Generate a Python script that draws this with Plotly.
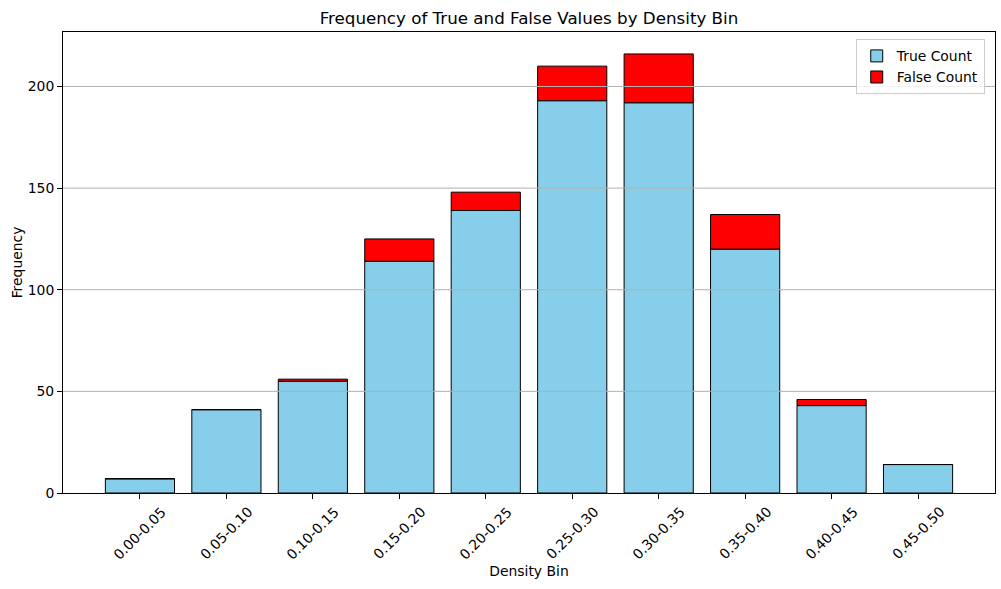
import plotly.graph_objects as go

bins = ["0.00-0.05", "0.05-0.10", "0.10-0.15", "0.15-0.20", "0.20-0.25",
        "0.25-0.30", "0.30-0.35", "0.35-0.40", "0.40-0.45", "0.45-0.50"]
true_counts = [7, 41, 55, 114, 139, 193, 192, 120, 43, 14]
false_counts = [0, 0, 1, 11, 9, 17, 24, 17, 3, 0]
y_ticks = [0, 50, 100, 150, 200]

FONT = "DejaVu Sans"

fig = go.Figure()
fig.add_trace(go.Bar(x=list(range(len(bins))), y=true_counts, name="True Count", width=0.8,
                     marker=dict(color="#87CEEB", line=dict(color="black", width=1))))
fig.add_trace(go.Bar(x=list(range(len(bins))), y=false_counts, name="False Count", width=0.8,
                     base=true_counts,
                     marker=dict(color="#FF0000", line=dict(color="black", width=1))))

# grid lines drawn above bars (matplotlib default ordering)
for t in y_ticks[1:]:
    fig.add_shape(type="line", xref="paper", yref="y", x0=0, x1=1, y0=t, y1=t,
                  line=dict(color="#b0b0b0", width=1), layer="above")

# rotated, centred tick labels
for i, lab in enumerate(bins):
    fig.add_annotation(x=i, y=0, xref="x", yref="paper", text=lab, textangle=-45,
                       showarrow=False, yshift=-40, xanchor="center", yanchor="middle",
                       font=dict(family=FONT, size=13.9, color="black"))

fig.update_layout(
    width=1001, height=589,
    barmode="overlay",
    plot_bgcolor="white", paper_bgcolor="white",
    margin=dict(l=63, r=6, t=32, b=96),
    font=dict(family=FONT, size=13.9, color="black"),
    title=dict(text="Frequency of True and False Values by Density Bin",
               x=0.5, xref="paper", xanchor="center", y=1 - 18 / 589, yanchor="middle",
               font=dict(family=FONT, size=16.7, color="black")),
    legend=dict(x=0.989, xanchor="right", y=0.984, yanchor="top", traceorder="normal",
                bordercolor="#cccccc", borderwidth=1, bgcolor="rgba(255,255,255,0.8)",
                font=dict(family=FONT, size=13.9), tracegroupgap=0),
    showlegend=True,
)
fig.update_xaxes(range=[-0.89, 9.89], tickvals=list(range(len(bins))), showticklabels=False,
                 ticks="outside", ticklen=5, tickcolor="black", tickwidth=1,
                 showline=True, linecolor="black", linewidth=1, mirror=True, showgrid=False,
                 zeroline=False, automargin=False,
                 title=dict(text="Density Bin", standoff=68, font=dict(family=FONT, size=13.9)))
fig.update_yaxes(range=[0, 226.8], tickvals=y_ticks, ticks="outside", ticklen=5, tickcolor="black",
                 tickwidth=1, showline=True, linecolor="black", linewidth=1, mirror=True,
                 showgrid=False, zeroline=False, automargin=False,
                 title=dict(text="Frequency", standoff=1, font=dict(family=FONT, size=13.9)))

fig.write_html("out.html", config={"displayModeBar": False},
               post_script="document.body.style.margin='0px';")
